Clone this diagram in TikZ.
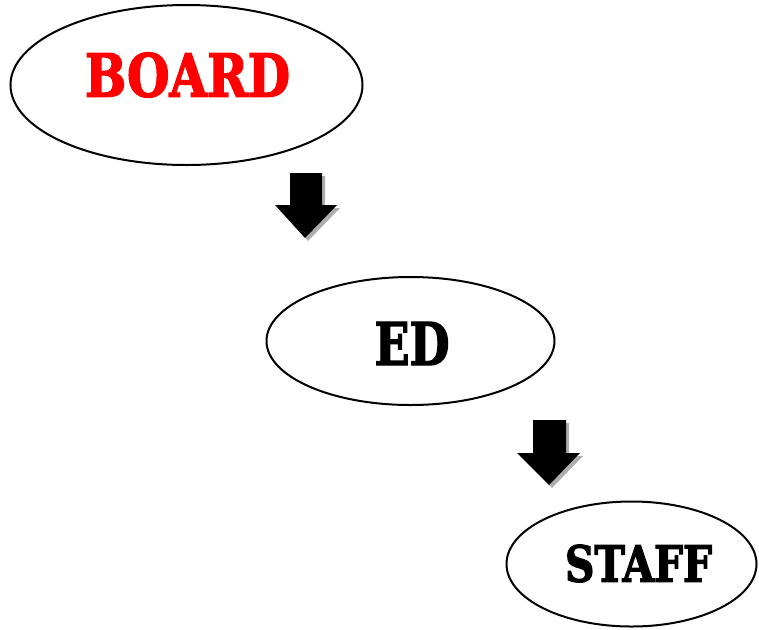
\documentclass[tikz,border=0pt]{standalone}
\usepackage{fontspec}
\usepackage{graphicx}
\setmainfont[BoldFeatures={FakeBold=2.5}]{DejaVu Serif Condensed}
\definecolor{boardred}{RGB}{255,0,0}
\begin{document}
\begin{tikzpicture}[x=1pt,y=-1pt,
  lbl/.style={inner sep=0pt,font=\bfseries},
  arrowshape/.style={fill=black},
  arrowshadow/.style={fill=black!45,opacity=0.7}]
\useasboundingbox (0,0) rectangle (759,629);
% ellipses
\draw[line width=2pt] (186.5,85) ellipse [x radius=176,y radius=80];
\draw[line width=2pt] (410.5,341) ellipse [x radius=144,y radius=64];
\draw[line width=2pt] (631.5,564) ellipse [x radius=125,y radius=62.5];
% labels
\node[lbl,text=boardred] (board) at (187.5,75) {\resizebox{205pt}{44pt}{BOARD}};
\node[lbl] (ed) at (412,343.5) {\resizebox{75pt}{43pt}{ED}};
\node[lbl] (staff) at (638.5,563.5) {\resizebox{147pt}{37pt}{STAFF}};
% arrows
\foreach \ox/\oy/\st in {3/3/arrowshadow,0/0/arrowshape}{
  \fill[\st,shift={(\ox,\oy)}] (290,173) -- (322,173) -- (322,205) -- (337,205) -- (305,238) -- (275,205) -- (290,205) -- cycle;
  \fill[\st,shift={(\ox,\oy)}] (533,420) -- (566,420) -- (566,453) -- (580,453) -- (549,485) -- (517,453) -- (533,453) -- cycle;
}
\end{tikzpicture}
\end{document}
